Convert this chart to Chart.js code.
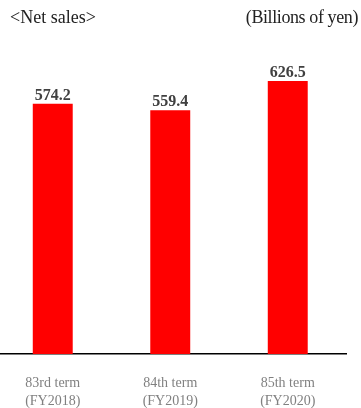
<!DOCTYPE html>
<html>
<head>
<meta charset="utf-8">
<script src="https://cdn.jsdelivr.net/npm/chart.js@4/dist/chart.umd.min.js"></script>
<style>
  html, body { margin: 0; padding: 0; background: #fff; }
  #wrap { position: relative; width: 361px; height: 408px; overflow: hidden; }
  #chart { position: absolute; left: -6px; top: 0; }
  .head { position: absolute; top: 7px; font-family: "Liberation Serif", serif; font-size: 18px; color: #222; white-space: nowrap; }
  #titleLeft { left: 10px; }
  #titleRight { right: 3px; letter-spacing: -0.4px; }
</style>
</head>
<body>
<div id="wrap">
  <canvas id="chart" width="367" height="408"></canvas>
  <div class="head" id="titleLeft">&lt;Net sales&gt;</div>
  <div class="head" id="titleRight">(Billions of yen)</div>
</div>
<script>
// Umsatz je Geschäftsjahr (Mrd. Yen)
const terms = [['83rd term', '(FY2018)'], ['84th term', '(FY2019)'], ['85th term', '(FY2020)']];
const netSales = [574.2, 559.4, 626.5];

// Werte über den Balken
const valueLabels = {
  id: 'valueLabels',
  afterDatasetsDraw(chart) {
    const ctx = chart.ctx;
    const meta = chart.getDatasetMeta(0);
    ctx.save();
    ctx.font = 'bold 16px "Liberation Serif", serif';
    ctx.fillStyle = '#404040';
    ctx.textAlign = 'center';
    ctx.textBaseline = 'alphabetic';
    meta.data.forEach((bar, i) => {
      ctx.fillText(netSales[i].toFixed(1), bar.x, bar.y - 4);
    });
    ctx.restore();
  }
};

new Chart(document.getElementById('chart'), {
  type: 'bar',
  data: {
    labels: terms,
    datasets: [{
      data: netSales,
      backgroundColor: '#ff0000',
      borderWidth: 0,
      barPercentage: 0.34,
      categoryPercentage: 1
    }]
  },
  options: {
    responsive: false,
    animation: false,
    layout: { padding: { top: 49, right: 14.5, left: 0, bottom: 0 } },
    plugins: {
      legend: { display: false },
      tooltip: { enabled: false }
    },
    scales: {
      y: {
        display: false,
        min: 0,
        max: 700
      },
      x: {
        // feste Höhe für die zweizeiligen Beschriftungen
        afterFit(scale) { scale.height = 54; },
        grid: { display: false, drawTicks: false },
        border: { display: true, color: '#000', width: 1.5 },
        ticks: {
          color: '#808080',
          padding: 20,
          font: { family: '"Liberation Serif", serif', size: 14, lineHeight: '18px' }
        }
      }
    }
  },
  plugins: [valueLabels]
});
</script>
</body>
</html>
